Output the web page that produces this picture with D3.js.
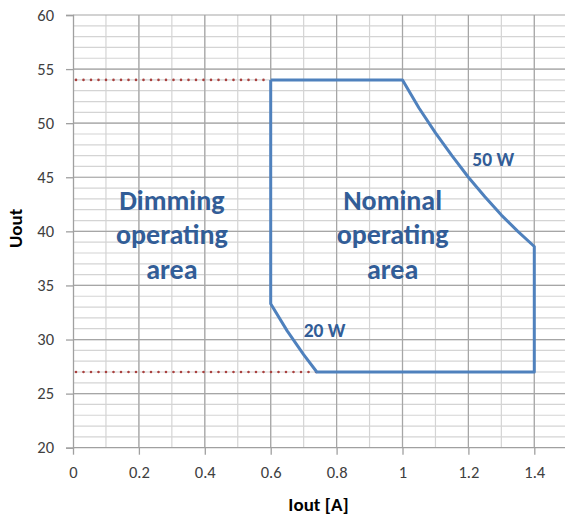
<!DOCTYPE html>
<html>
<head>
<meta charset="utf-8">
<script src="https://cdn.jsdelivr.net/npm/d3@7"></script>
<style>
  body { margin: 0; background: #fff; }
  svg { display: block; font-family: Calibri, Carlito, Lato, sans-serif; }
</style>
</head>
<body>
<div id="box"></div>
<script>
'use strict';

// tick values
var xTicks = [0, 0.2, 0.4, 0.6, 0.8, 1, 1.2, 1.4];
var yTicks = [20, 25, 30, 35, 40, 45, 50, 55, 60];

// operating window outline (Iout, Uout)
var outlineI = [0.6, 1.0, 1.05, 1.1, 1.15, 1.2, 1.25, 1.3, 1.35, 1.4, 1.4, 0.74, 0.7, 0.65, 0.6, 0.6];
var outlineU = [54, 54, 51.4, 49.1, 47, 45, 43.2, 41.5, 40, 38.6, 27, 27, 28.6, 30.8, 33.3, 54];

// dotted voltage limits in the dimming area
var limitU = [54, 27];
var limitIEnd = [0.6, 0.74];

// labels
var areaLabels = [
  { i: 0.3, u: 42, lines: ["Dimming", "operating", "area"] },
  { i: 0.97, u: 42, lines: ["Nominal", "operating", "area"] }
];
var powerLabels = [
  { i: 1.212, u: 46, text: "50 W" },
  { i: 0.7, u: 30.2, text: "20 W" }
];

var margin = { top: 15, right: 0, bottom: 72, left: 73 };
var width = 565 - margin.left - margin.right;
var height = 520 - margin.top - margin.bottom - 0.3;

var svg = d3.select("#box")
  .append("svg")
    .attr("width", 565)
    .attr("height", 520)
  .append("g")
    .attr("transform", "translate(" + margin.left + "," + margin.top + ")");

var x = d3.scaleLinear()
  .domain([0, 1.5])
  .range([0, 1.5 * 329.5]);

var y = d3.scaleLinear()
  .domain([20, 60])
  .range([height, 0]);

// minor grid
var minorX = d3.range(1, 16).map(function(d) { return d / 10; });
var minorY = d3.range(21, 60);
svg.append("g").selectAll("line.mx")
  .data(minorX)
  .enter().append("line")
    .attr("x1", function(d) { return x(d); })
    .attr("x2", function(d) { return x(d); })
    .attr("y1", 0).attr("y2", height)
    .attr("stroke", "#d4d4d4").attr("stroke-width", 1.2);
svg.append("g").selectAll("line.my")
  .data(minorY)
  .enter().append("line")
    .attr("x1", 0).attr("x2", x(1.5))
    .attr("y1", function(d) { return y(d); })
    .attr("y2", function(d) { return y(d); })
    .attr("stroke", "#d4d4d4").attr("stroke-width", 1.2);

// major grid
svg.append("g").selectAll("line")
  .data(xTicks.slice(1))
  .enter().append("line")
    .attr("x1", function(d) { return x(d); })
    .attr("x2", function(d) { return x(d); })
    .attr("y1", 0).attr("y2", height)
    .attr("stroke", "#a6a6a6").attr("stroke-width", 1.2);
svg.append("g").selectAll("line")
  .data(yTicks.slice(1))
  .enter().append("line")
    .attr("x1", 0).attr("x2", x(1.5))
    .attr("y1", function(d) { return y(d); })
    .attr("y2", function(d) { return y(d); })
    .attr("stroke", "#a6a6a6").attr("stroke-width", 1.2);

// axes
var xAxis = svg.append("g")
  .attr("transform", "translate(0," + height + ")")
  .call(d3.axisBottom(x).tickValues(xTicks).tickSize(7).tickPadding(12)
    .tickFormat(d3.format("")));
var yAxis = svg.append("g")
  .call(d3.axisLeft(y).tickValues(yTicks).tickSize(7).tickPadding(12));
[xAxis, yAxis].forEach(function(a) {
  a.select(".domain").attr("stroke", "#a0a0a0").attr("stroke-width", 1.3);
  a.selectAll(".tick line").attr("stroke", "#a0a0a0").attr("stroke-width", 1.3);
  a.selectAll(".tick text")
    .attr("fill", "#404040")
    .style("font-size", "16.5px")
    .style("font-family", "Calibri, Carlito, Lato, sans-serif");
});
xAxis.select(".domain").attr("d", "M0,0H" + x(1.5));

// dotted limit lines
svg.append("g").selectAll("line")
  .data(limitU)
  .enter().append("line")
    .attr("x1", x(0) + 3)
    .attr("x2", function(d, i) { return x(limitIEnd[i]); })
    .attr("y1", function(d) { return y(d); })
    .attr("y2", function(d) { return y(d); })
    .attr("stroke", "#a9413f")
    .attr("stroke-width", 2.6)
    .attr("stroke-linecap", "round")
    .attr("stroke-dasharray", "0,7.5");

// outline
var pts = outlineI.map(function(d, i) { return [d, outlineU[i]]; });
svg.append("path")
  .datum(pts)
  .attr("fill", "none")
  .attr("stroke", "#4f81bd")
  .attr("stroke-width", 3)
  .attr("stroke-linejoin", "round")
  .attr("d", d3.line()
    .x(function(d) { return x(d[0]); })
    .y(function(d) { return y(d[1]); }));

// area labels
areaLabels.forEach(function(l) {
  var t = svg.append("text")
    .attr("x", x(l.i))
    .attr("y", y(l.u))
    .attr("text-anchor", "middle")
    .attr("fill", "#325d97")
    .style("font-size", "28px")
    .style("font-weight", "bold");
  l.lines.forEach(function(s, k) {
    t.append("tspan")
      .attr("x", x(l.i))
      .attr("dy", k === 0 ? 0 : 34.5)
      .text(s);
  });
});

svg.selectAll("text.pw")
  .data(powerLabels)
  .enter().append("text")
    .attr("class", "pw")
    .attr("x", function(d) { return x(d.i); })
    .attr("y", function(d) { return y(d.u); })
    .attr("fill", "#325d97")
    .style("font-size", "19.5px")
    .style("font-weight", "bold")
    .text(function(d) { return d.text; });

// axis titles
svg.append("text")
  .attr("transform", "rotate(-90)")
  .attr("x", -(y(40) - 3))
  .attr("y", -margin.left + 22)
  .attr("text-anchor", "middle")
  .style("font-size", "19px")
  .style("font-weight", "bold")
  .text("Uout");
svg.append("text")
  .attr("x", x(0.745))
  .attr("y", height + 63)
  .attr("text-anchor", "middle")
  .style("font-size", "19px")
  .style("font-weight", "bold")
  .text("Iout [A]");
</script>
</body>
</html>
